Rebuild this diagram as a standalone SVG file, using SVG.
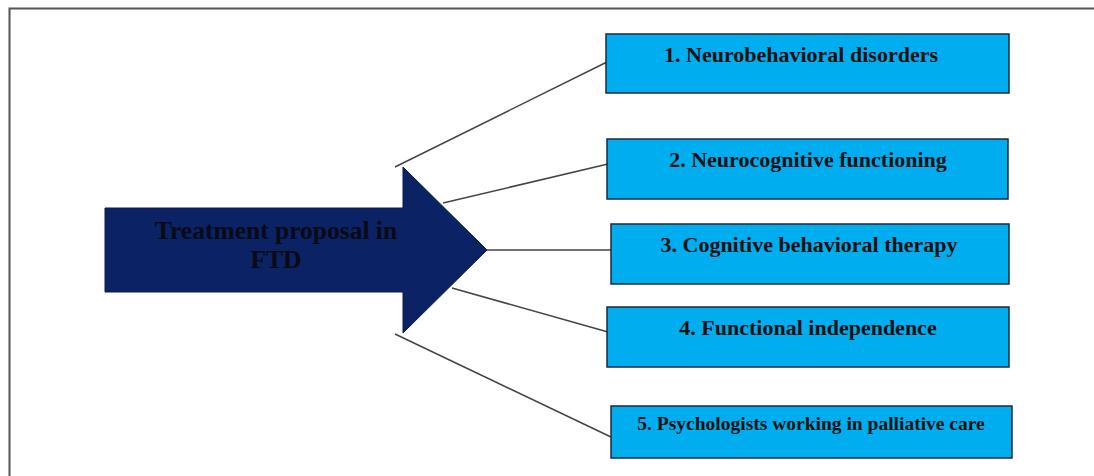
<svg xmlns="http://www.w3.org/2000/svg" width="1094" height="476" viewBox="0 0 1094 476">
<style>
.box{fill:#00adef;stroke:#1c2a3a;stroke-width:1.5}
.lbl{font-family:"Liberation Serif","Times New Roman",serif;font-weight:bold;font-size:22px;fill:#111;text-anchor:middle}
.big{font-family:"Liberation Serif","Times New Roman",serif;font-weight:bold;font-size:25.5px;fill:#0a0a14;text-anchor:middle}
.con{stroke:#444;stroke-width:1.5;fill:none}
</style>
<rect width="1094" height="476" fill="#fff"/>
<path d="M9.5 476 V8.5 H1094" fill="none" stroke="#555" stroke-width="2"/>
<g id="connectors">
<line class="con" x1="395" y1="167" x2="607" y2="62"/>
<line class="con" x1="443" y1="203" x2="608" y2="164"/>
<line class="con" x1="487" y1="250" x2="611" y2="250"/>
<line class="con" x1="452" y1="288" x2="608" y2="332"/>
<line class="con" x1="395" y1="334" x2="611" y2="437"/>
</g>
<g id="arrow">
<polygon points="105,208 403,208 403,167 487,250 403,333 403,292 105,292" fill="#0b2264" stroke="#081a4a" stroke-width="1"/>
<text class="big" x="276" y="239">Treatment proposal in</text>
<text class="big" x="276" y="268">FTD</text>
</g>
<g id="node1">
<rect class="box" x="606" y="34" width="403" height="59"/>
<text class="lbl" x="801" y="62">1. Neurobehavioral disorders</text>
</g>
<g id="node2">
<rect class="box" x="607" y="139" width="401" height="60"/>
<text class="lbl" x="808" y="167">2. Neurocognitive functioning</text>
</g>
<g id="node3">
<rect class="box" x="611" y="224" width="398" height="60"/>
<text class="lbl" x="809" y="252">3. Cognitive behavioral therapy</text>
</g>
<g id="node4">
<rect class="box" x="607" y="307" width="402" height="60"/>
<text class="lbl" x="808" y="335">4. Functional independence</text>
</g>
<g id="node5">
<rect class="box" x="611" y="406" width="401" height="52"/>
<text class="lbl" x="811" y="430" style="font-size:19.5px">5.  Psychologists working in palliative care</text>
</g>
</svg>
